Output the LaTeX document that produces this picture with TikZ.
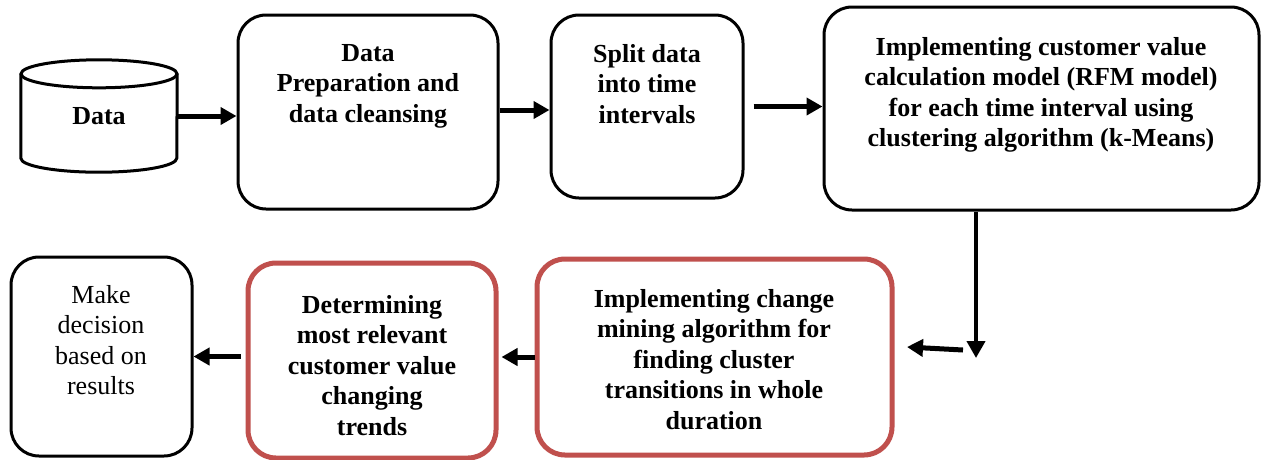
\documentclass[tikz,border=0pt]{standalone}
\usepackage{fontspec}
\setmainfont{Liberation Serif}
\usetikzlibrary{arrows.meta}
\definecolor{boxred}{RGB}{192,80,77}
\begin{document}
\begin{tikzpicture}[x=1pt,y=-1pt,
  box/.style={draw=black, line width=3pt, rounded corners=28pt, inner sep=0pt},
  redbox/.style={draw=boxred, line width=5pt, rounded corners=28pt, inner sep=0pt},
  txt/.style={font=\fontsize{26}{30.5}\selectfont\bfseries, align=center, inner sep=0pt, anchor=north},
  ntxt/.style={font=\fontsize{26}{30.5}\selectfont, align=center, inner sep=0pt, anchor=north},
  cyl/.style={line width=3pt, draw=black},
  arr/.style={line width=5pt, -{Triangle[length=16pt,width=17pt]}},
  varr/.style={line width=4pt, -{Triangle[length=17pt,width=18pt]}},
]
\useasboundingbox[fill=white] (0,0) rectangle (1264,459);

% cylinder
\node[inner sep=0pt, minimum width=156pt, minimum height=112pt, font=\fontsize{26}{30.5}\selectfont\bfseries] (db) at (99,116) {Data};
\draw[cyl] ([yshift=-14pt]db.north) ellipse [x radius=78, y radius=14];
\draw[cyl] ([yshift=-14pt]db.north west) -- ([yshift=14pt]db.south west)
  arc[start angle=180, end angle=0, x radius=78, y radius=14] -- ([yshift=-14pt]db.north east);

% top row boxes
\node[box, minimum width=260pt, minimum height=194pt] (b2) at (368,112) {};
\node[box, minimum width=192pt, minimum height=183pt] (b3) at (647,106.5) {};
\node[box, minimum width=435pt, minimum height=203pt] (b4) at (1041.5,108.5) {};

% bottom row boxes
\node[redbox, minimum width=355pt, minimum height=196pt] (b6) at (714.5,357) {};
\node[redbox, minimum width=248pt, minimum height=195pt] (b7) at (372,360.5) {};
\node[box, minimum width=181pt, minimum height=199pt] (b8) at (101.5,356.5) {};

% texts
\node[txt] (t2) at (368,44) {Data\\Preparation and\\data cleansing};
\node[txt] (t3) at (647,44) {Split data\\into time\\intervals};
\node[txt] (t4) at (1041,37) {Implementing customer value\\calculation model (RFM model)\\for each time interval using\\clustering algorithm (k-Means)};
\node[txt] (t6) at (714,289) {Implementing change\\mining algorithm for\\finding cluster\\transitions in whole\\duration};
\node[txt] (t7) at (372,295) {Determining\\most relevant\\customer value\\changing\\trends};
\node[ntxt] (t8) at (101,285) {Make\\decision\\based on\\results};

% connectors
\draw[arr] (db.east) -- (b2.west |- db.east);
\draw[arr] ([yshift=2pt]b2.east) -- ([yshift=2pt]b2.east -| b3.west);
\draw[arr, shorten <=9pt] (b3.east) -- (b3.east -| b4.west);
\coordinate (vend) at (976,358);
\draw[varr] (b4.south -| vend) -- (vend);
\coordinate (ftail) at (963,350);
\coordinate (fhead) at (907,347);
\draw[arr] (ftail) -- (fhead);
\draw[arr, shorten >=3pt] (b6.west) -- (b7.east |- b6.west);
\draw[arr, shorten <=5pt] (b7.west |- b8.east) -- (b8.east);
\end{tikzpicture}
\end{document}
